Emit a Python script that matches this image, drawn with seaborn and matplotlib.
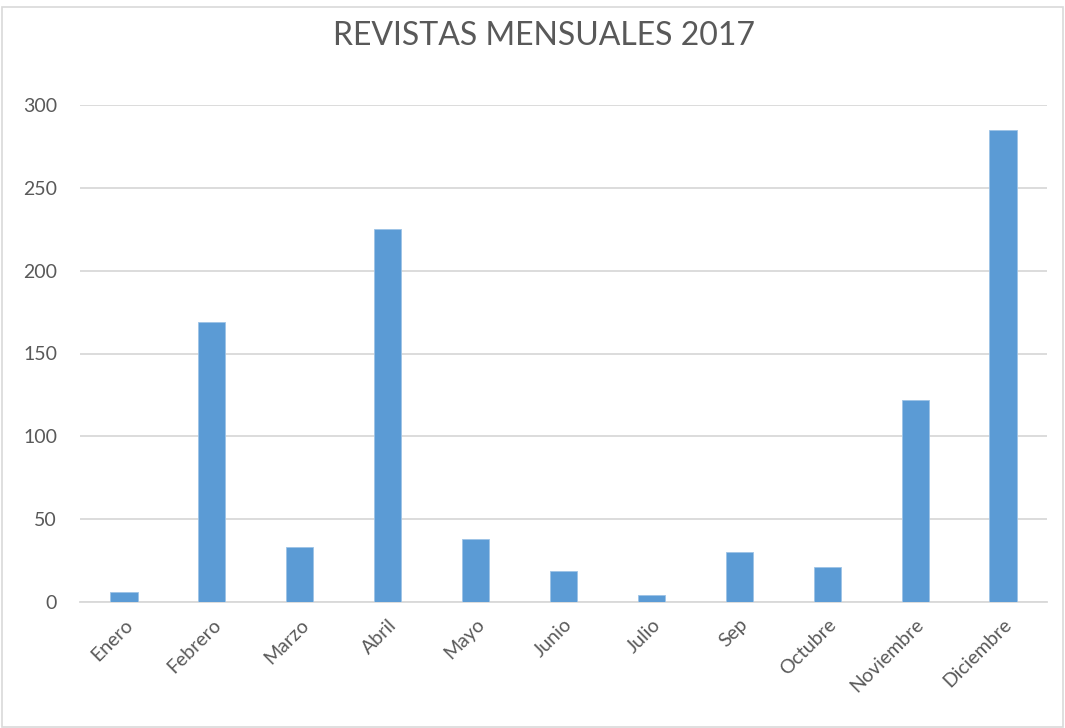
import matplotlib
matplotlib.use("Agg")
import matplotlib.pyplot as plt
import seaborn as sns
import pandas as pd
from matplotlib.patches import Rectangle

meses = ["Enero", "Febrero", "Marzo", "Abril", "Mayo", "Junio", "Julio",
         "Sep", "Octubre", "Noviembre", "Diciembre"]
revistas = [6, 169, 33, 225, 38, 19, 4, 30, 21, 122, 285]
y_ticks = [0, 50, 100, 150, 200, 250, 300]

df = pd.DataFrame({"mes": meses, "revistas": revistas})

sns.set_theme(style="white")
plt.rcParams["font.family"] = ["Lato", "DejaVu Sans"]

gris = "#595959"
fig = plt.figure(figsize=(10.65, 7.28), dpi=100)
ax = fig.add_axes([80 / 1065, 1 - 602 / 728, (1047 - 80) / 1065, (602 - 105) / 728])

sns.barplot(data=df, x="mes", y="revistas", color="#5B9BD5", width=0.31,
            saturation=1, edgecolor="#9DC3E6", linewidth=0.6, ax=ax, zorder=3)

ax.set_xlim(-0.5, len(meses) - 0.5)
ax.set_ylim(0, 300)
ax.set_yticks(y_ticks)
ax.yaxis.grid(True, color="#D9D9D9", linewidth=1.3, zorder=0)
ax.set_axisbelow(True)
for s in ["top", "right", "left"]:
    ax.spines[s].set_visible(False)
ax.spines["bottom"].set_color("#D9D9D9")
ax.spines["bottom"].set_linewidth(1.3)

ax.set_xlabel("")
ax.set_ylabel("")
ax.tick_params(axis="both", length=0, labelsize=14, labelcolor=gris)
ax.tick_params(axis="y", pad=16.5)
ax.tick_params(axis="x", pad=10)
plt.setp(ax.get_xticklabels(), rotation=45, ha="right", rotation_mode="anchor")

fig.text(0.511, 1 - 36 / 728, "REVISTAS MENSUALES 2017", ha="center", va="center",
         fontsize=23, color=gris)

fig.patches.append(Rectangle((2 / 1065, 0.002), 1 - 4 / 1065, 1 - 8 / 728,
                             transform=fig.transFigure, fill=False,
                             edgecolor="#D9D9D9", linewidth=1.2))

fig.savefig("out.png", dpi=100, facecolor="white")
